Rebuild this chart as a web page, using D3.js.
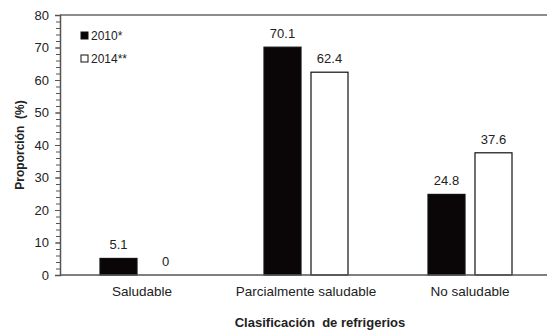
<!DOCTYPE html>
<html><head><meta charset="utf-8">
<script src="https://cdn.jsdelivr.net/npm/d3@7"></script>
<style>body{margin:0;background:#fff;} text{font-family:"Liberation Sans",Arial,sans-serif;fill:#222;}</style>
</head><body><svg id="c" width="547" height="335"></svg>
<script>
const categories = ["Saludable", "Parcialmente saludable", "No saludable"];
const seriesNames = ["2010*", "2014**"];
const values2010 = [5.1, 70.1, 24.8];
const values2014 = [0, 62.4, 37.6];
const yTicks = [0, 10, 20, 30, 40, 50, 60, 70, 80];

const svg = d3.select("#c");
const mLeft = 60, mRight = 552, mTop = 15, mBottom = 275;
const x = d3.scaleBand().domain(categories).range([mLeft, mRight]);
const y = d3.scaleLinear().domain([0, 80]).range([mBottom, mTop]);
const barW = 37, gap = 10;
const fills = ["#0a0507", "#ffffff"];
const series = [values2010, values2014];

// top border
svg.append("line").attr("x1", mLeft).attr("x2", 547).attr("y1", mTop).attr("y2", mTop)
  .attr("stroke", "#666").attr("stroke-width", 1.5);

// y axis with minor ticks
const minor = d3.range(0, 81, 2);
svg.append("g").attr("transform", `translate(${mLeft},0)`)
  .call(d3.axisLeft(y).tickValues(minor).tickSize(4).tickFormat(""))
  .call(g => g.select(".domain").remove())
  .call(g => g.selectAll("line").attr("stroke", "#555"));
const ya = svg.append("g").attr("transform", `translate(${mLeft},0)`)
  .call(d3.axisLeft(y).tickValues(yTicks).tickSize(5).tickPadding(6));
ya.select(".domain").attr("stroke", "#555").attr("stroke-width", 1.5);
ya.selectAll("line").attr("stroke", "#555");
ya.selectAll("text").attr("font-size", 13).attr("fill", "#222");

// bars
series.forEach((vals, si) => {
  svg.append("g").selectAll("rect").data(vals).join("rect")
    .attr("x", (d, i) => x(categories[i]) + x.bandwidth() / 2 - barW - gap / 2 + si * (barW + gap))
    .attr("y", d => y(d))
    .attr("width", barW)
    .attr("height", d => y(0) - y(d))
    .attr("fill", fills[si])
    .attr("stroke", "#111").attr("stroke-width", 1.2);
  svg.append("g").selectAll("text").data(vals).join("text")
    .attr("x", (d, i) => x(categories[i]) + x.bandwidth() / 2 - barW / 2 - gap / 2 + si * (barW + gap))
    .attr("y", d => y(d) - 9)
    .attr("text-anchor", "middle").attr("font-size", 13)
    .text(d => d);
});

// x axis
const xa = svg.append("g").attr("transform", `translate(0,${mBottom})`)
  .call(d3.axisBottom(x).tickSize(0).tickPadding(11));
xa.select(".domain").remove();
svg.append("line").attr("x1", mLeft).attr("x2", 547).attr("y1", mBottom).attr("y2", mBottom)
  .attr("stroke", "#555").attr("stroke-width", 1.5);
xa.selectAll("text").attr("font-size", 13.5).attr("fill", "#222");

// axis titles
svg.append("text").attr("x", 320).attr("y", 327).attr("text-anchor", "middle")
  .attr("font-size", 13).attr("font-weight", "bold").style("white-space", "pre")
  .text("Clasificación  de refrigerios");
svg.append("text").attr("transform", `translate(24,${(mTop + mBottom) / 2}) rotate(-90)`)
  .attr("text-anchor", "middle").attr("font-size", 12).attr("font-weight", "bold")
  .style("white-space", "pre").text("Proporción  (%)");

// legend
const lg = svg.append("g");
seriesNames.forEach((n, i) => {
  lg.append("rect").attr("x", 81).attr("y", 32 + i * 23).attr("width", 7).attr("height", 7)
    .attr("fill", fills[i]).attr("stroke", "#111").attr("stroke-width", 1);
  lg.append("text").attr("x", 91).attr("y", 40 + i * 23).attr("font-size", 12).text(n);
});
</script></body></html>
